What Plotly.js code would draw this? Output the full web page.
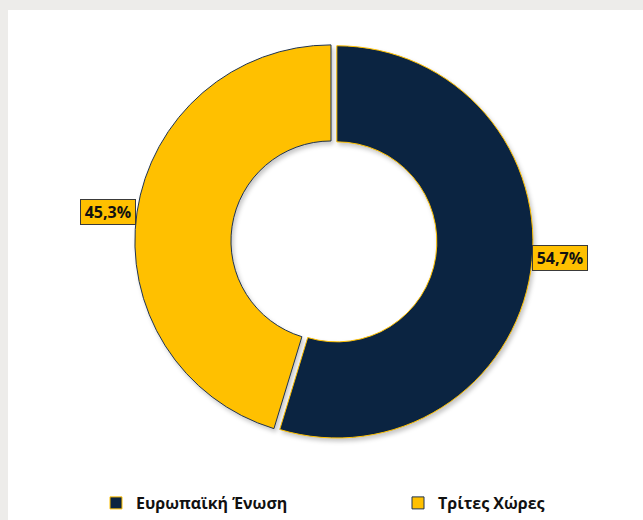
<!DOCTYPE html>
<html>
<head>
<meta charset="utf-8">
<script src="https://cdn.plot.ly/plotly-3.0.1.min.js"></script>
<style>
  html, body { margin: 0; padding: 0; background: #EDECEA; width: 643px; height: 520px; overflow: hidden; }
  #chart { position: absolute; left: 8px; top: 10px; width: 700px; height: 510px; background: #ffffff; }
  #chart .slice path.surface { filter: drop-shadow(2px 3px 2px rgba(0,0,0,0.22)); }
</style>
</head>
<body>
<div id="chart"></div>
<script>
// ---- data ----
var categories = ['Ευρωπαϊκή Ένωση', 'Τρίτες Χώρες'];
var shares = [54.7, 45.3];
var sliceColors = ['#0B2441', '#FFC000'];
var outlineColors = ['#FFC000', '#1F3350'];
var pulls = [0.03, 0];

// ---- layout constants (pixels inside the white panel) ----
var W = 700, H = 510;
var pieCx = 323, pieCy = 231, pieHalf = 202;
var domX = [(pieCx - pieHalf) / W, (pieCx + pieHalf) / W];
var domY = [1 - (pieCy + pieHalf) / H, 1 - (pieCy - pieHalf) / H];
var holeFrac = 0.51;

var trace = {
  type: 'pie',
  labels: categories,
  values: shares,
  sort: false,
  direction: 'clockwise',
  rotation: 0,
  hole: holeFrac,
  pull: pulls,
  textinfo: 'none',
  hoverinfo: 'none',
  domain: {x: domX, y: domY},
  marker: {colors: sliceColors, line: {color: outlineColors, width: 1}}
};

var layout = {
  width: W, height: H,
  margin: {l: 0, r: 0, t: 0, b: 0},
  paper_bgcolor: '#ffffff',
  showlegend: true,
  legend: {
    orientation: 'h',
    x: 88 / W, xanchor: 'left',
    y: 1 - 493 / H, yanchor: 'middle',
    entrywidth: 257, entrywidthmode: 'pixels',
    font: {family: 'Open Sans, sans-serif', size: 16, color: '#111111', weight: 'bold'},
    bgcolor: 'rgba(0,0,0,0)'
  }
};

Plotly.newPlot('chart', [trace], layout, {displayModeBar: false, staticPlot: true}).then(function(gd) {
  var cd0 = gd.calcdata[0][0];
  var R = cd0.r, cx = cd0.cx, cy = cd0.cy;
  var total = shares.reduce(function(a, b) { return a + b; }, 0);
  var cum = 0;
  var annotations = [];
  shares.forEach(function(v, i) {
    var mid = (cum + v / 2) / total * 2 * Math.PI;
    cum += v;
    var dx = Math.sin(mid), dy = -Math.cos(mid);
    var sx = cx + dx * R * pulls[i], sy = cy + dy * R * pulls[i];
    var px = sx + dx * (R + 1), py = sy + dy * (R + 1);
    annotations.push({
      xref: 'paper', yref: 'paper',
      x: px / W, y: 1 - py / H,
      xanchor: dx >= 0 ? 'left' : 'right',
      yanchor: dy > 0 ? 'bottom' : 'middle',
      showarrow: false,
      text: '\u2009<b>' + v.toFixed(1).replace('.', ',') + '%</b>\u2009',
      font: {family: 'Open Sans, sans-serif', size: 16, color: '#111111'},
      bgcolor: '#FFC000',
      bordercolor: '#3A3A3A',
      borderwidth: 1,
      borderpad: 1
    });
  });
  Plotly.relayout(gd, {annotations: annotations});
});
</script>
</body>
</html>
